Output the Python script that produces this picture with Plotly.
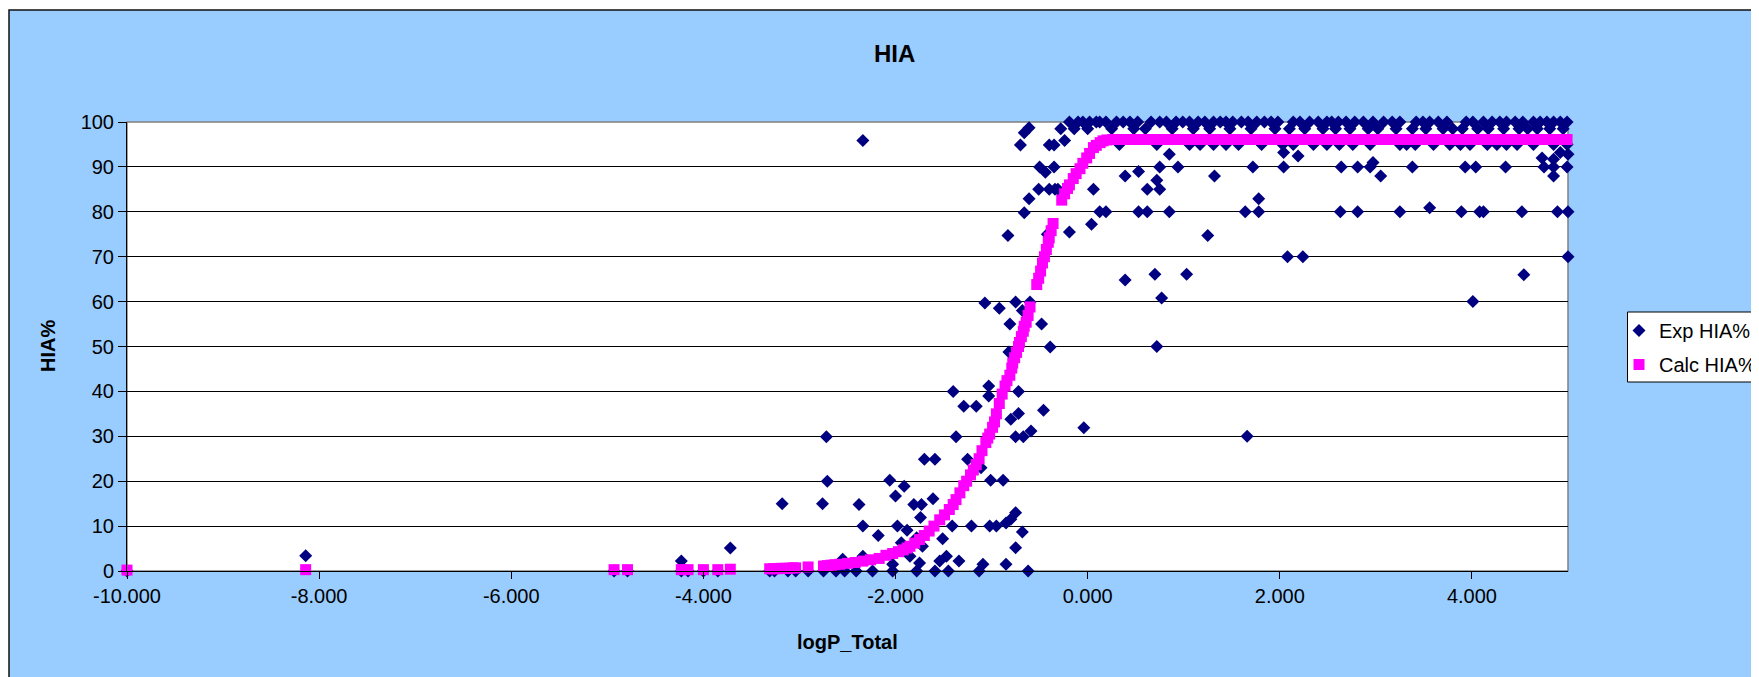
import plotly.graph_objects as go

# ---------------- data ----------------
exp_logp = [
    -10.00, -8.14, -4.93, -4.79, -4.23, -4.23, -4.16, -4.00, -3.85, -3.72,
    -3.31, -3.26, -3.18, -3.12, -3.04, -2.91, -2.76, -2.71, -2.72, -2.75, -2.62,
    -2.55, -2.53, -2.41, -2.38, -2.34, -2.34, -2.34, -2.24, -2.18, -2.06, -2.03,
    -2.03, -2.00, -1.98, -1.94, -1.91, -1.88, -1.85, -1.81, -1.78, -1.78, -1.75,
    -1.74, -1.73, -1.72, -1.70, -1.61, -1.59, -1.59, -1.54, -1.51, -1.47, -1.45,
    -1.41, -1.40, -1.37, -1.34, -1.29, -1.25, -1.21, -1.16, -1.13, -1.11, -1.09,
    -1.07, -1.03, -1.03, -1.02, -1.01, -0.95, -0.92, -0.88, -0.85, -0.85, -0.83,
    -0.82, -0.81, -0.80, -0.80, -0.75, -0.75, -0.75, -0.75, -0.72, -0.72, -0.70,
    -0.68, -0.68, -0.67, -0.66, -0.66, -0.62, -0.61, -0.61, -0.60, -0.59, -0.51,
    -0.50, -0.48, -0.46, -0.44, -0.42, -0.40, -0.40, -0.39, -0.35, -0.35, -0.34,
    -0.31, -0.24, -0.19, -0.19, -0.10, -0.05, -0.04, 0.02, 0.04, 0.06, 0.09,
    0.125, 0.19, 0.39, 0.53, 0.53, 0.62, 0.62, 0.72, 0.75, 0.75, 0.85, 0.85,
    0.94, 1.25, 1.32, 1.64, 1.78, 1.78, 1.72, 2.04, 2.04, 2.19, 2.08, 2.24,
    0.39, 0.70, 1.03, 0.77, 0.72, 1.66,
    2.63, 2.81, 3.25, 3.56, 3.89, 4.08, 4.12, 4.52, 4.89, 5.00,
    2.64, 2.81, 2.94, 2.97, 3.38, 3.93, 4.04, 4.35, 4.75, 4.85, 4.99, 3.05, 4.85,
    4.01, 4.54, 5.00, 4.73, 4.85, 4.92, 5.00,
    # row at ~100
    0.125, 0.19, 0.30, 0.37, 0.44, 0.52, 0.66, 0.75, 0.82, 0.92, 0.99, 1.06,
    1.15, 1.22, 1.31, 1.38, 1.44, 1.51, 1.60, 1.67, 1.76, 1.84, 1.91, 1.98,
    2.14, 2.21, 2.31, 2.40, 2.49, 2.54, 2.61, 2.69, 2.78, 2.87, 2.97, 3.08,
    3.17, 3.25, 3.42, 3.49, 3.56, 3.65, 3.74, 3.94, 4.01, 4.12, 4.21, 4.29,
    4.36, 4.45, 4.53, 4.64, 4.71, 4.78, 4.85, 4.92, 4.99,
    # row at ~98.5
    -0.28, -0.14, 0.00, 0.25, 0.48, 0.60, 0.88, 1.10, 1.27, 1.48, 1.70, 1.95,
    2.10, 2.26, 2.45, 2.58, 2.73, 2.92, 3.02, 3.21, 3.38, 3.52, 3.70, 3.80,
    3.90, 4.06, 4.17, 4.33, 4.49, 4.58, 4.68, 4.81, 4.95,
    # row at ~95
    0.33, 0.72, 1.06, 1.17, 1.31, 1.44, 1.57, 1.81, 2.03, 2.14, 2.35, 2.49,
    2.62, 2.76, 2.94, 3.25, 3.32, 3.41, 3.60, 3.77, 3.88, 3.98, 4.16, 4.26,
    4.36, 4.47, 4.64, 4.85, 4.99,
]
exp_hia = [
    0, 3.4, 0, 0, 2.2, 0, 0, 0, 0, 5.1,
    0, 0, 15, 0, 0, 0, 15, 20, 29.9, 0, 0,
    2.6, 0, 0, 14.8, 10, 3.3, 95.9, 0, 7.9, 20.2, 1.5,
    0, 16.7, 10, 6.3, 18.9, 9.1, 3.3, 14.8, 7.4, 0, 1.8,
    11.9, 14.8, 5.5, 24.9, 16.1, 24.9, 0, 2.2, 7.2, 3.3, 0,
    10, 40, 29.9, 2.2, 36.7, 24.9, 10, 36.7, 0, 23, 1.5,
    59.7, 41.2, 39, 10, 20.2, 10, 58.5, 20.2, 10.7, 1.5, 74.7,
    48.8, 55, 11.5, 33.8, 59.9, 29.9, 13, 5.2, 40, 35.1, 94.9,
    58, 8.7, 29.9, 79.8, 97.6, 0, 82.9, 98.7, 59.9, 31.2, 85,
    90, 55, 35.8, 88.8, 75, 85, 94.9, 49.9, 90, 94.9, 85,
    85, 95.9, 75.5, 100, 100, 100, 31.9, 100, 77.2, 85, 100,
    80, 80, 88, 89, 80, 85, 80, 87, 90, 85, 92.8, 80,
    90, 74.7, 88, 80, 80, 82.9, 90, 90, 93.2, 92.4, 70, 70,
    64.8, 66.1, 66.1, 60.8, 50, 30,
    80, 80, 80, 80.9, 80, 80, 80, 80, 80, 80,
    90, 90, 90, 91, 90, 90, 90, 90, 90, 90, 90, 88, 88,
    60, 66, 70, 92, 91.7, 93.2, 92.8,
    100, 100, 100, 100, 100, 100, 100, 100, 100, 100, 100, 100,
    100, 100, 100, 100, 100, 100, 100, 100, 100, 100, 100, 100,
    100, 100, 100, 100, 100, 100, 100, 100, 100, 100, 100, 100,
    100, 100, 100, 100, 100, 100, 100, 100, 100, 100, 100, 100,
    100, 100, 100, 100, 100, 100, 100, 100, 100,
    98.5, 98.5, 98.5, 98.5, 98.5, 98.5, 98.5, 98.5, 98.5, 98.5, 98.5, 98.5,
    98.5, 98.5, 98.5, 98.5, 98.5, 98.5, 98.5, 98.5, 98.5, 98.5, 98.5, 98.5,
    98.5, 98.5, 98.5, 98.5, 98.5, 98.5, 98.5, 98.5, 98.5,
    95, 95, 95, 95, 95, 95, 95, 95, 95, 95, 95, 95,
    95, 95, 95, 95, 95, 95, 95, 95, 95, 95, 95, 95,
    95, 95, 95, 95, 95,
]

calc_logp = [
    -10.00, -8.14, -4.93, -4.79, -4.23, -4.16, -4.00, -3.85, -3.72,
    -3.31, -3.27, -3.23, -3.19, -3.15, -3.11, -3.07, -3.04, -2.91,
    -2.75, -2.71, -2.67, -2.63, -2.58, -2.50, -2.42, -2.34, -2.26, -2.17,
    -2.10, -2.03, -1.97, -1.92, -1.88, -1.85, -1.80, -1.75, -1.70, -1.65,
    -1.60, -1.54, -1.49, -1.44, -1.40, -1.37, -1.33, -1.29, -1.26, -1.22,
    -1.19, -1.16, -1.13, -1.10, -1.06, -1.04, -1.02, -0.99, -0.97, -0.95,
    -0.92, -0.89, -0.86, -0.84, -0.81, -0.79, -0.78, -0.76, -0.74, -0.72,
    -0.71, -0.69, -0.67, -0.66, -0.64, -0.62, -0.60,
    -0.53, -0.51, -0.49, -0.47, -0.45, -0.43, -0.41, -0.40, -0.38, -0.36,
    -0.27, -0.24, -0.21, -0.19, -0.15, -0.12, -0.08, -0.05, -0.01, 0.02,
    0.06, 0.09, 0.13, 0.16, 0.20, 0.26,
    0.32, 0.37, 0.44, 0.52, 0.58, 0.66, 0.72, 0.78, 0.85, 0.92, 0.99, 1.06,
    1.15, 1.22, 1.31, 1.38, 1.44, 1.51, 1.60, 1.67, 1.76, 1.84, 1.91, 1.98,
    2.04, 2.14, 2.21, 2.31, 2.40, 2.49, 2.54, 2.61, 2.69, 2.78, 2.87, 2.97,
    3.08, 3.17, 3.25, 3.34, 3.42, 3.49, 3.56, 3.65, 3.74, 3.84, 3.94, 4.01,
    4.12, 4.21, 4.29, 4.36, 4.45, 4.53, 4.64, 4.71, 4.78, 4.85, 4.92, 4.99,
]
calc_hia = [
    0.2, 0.3, 0.3, 0.3, 0.3, 0.3, 0.3, 0.3, 0.4,
    0.5, 0.5, 0.5, 0.6, 0.6, 0.6, 0.7, 0.7, 0.9,
    1.1, 1.2, 1.3, 1.4, 1.5, 1.7, 1.9, 2.2, 2.5, 2.8,
    3.5, 3.9, 4.3, 4.7, 5.1, 5.5, 6.2, 7.0, 7.9, 8.9,
    10.0, 11.4, 12.5, 13.7, 14.8, 15.9, 17.4, 19.0, 20.0, 21.4,
    22.5, 23.7, 25.0, 26.8, 28.6, 29.6, 30.5, 32.0, 33.2, 35.0,
    37.3, 39.4, 41.2, 42.4, 43.6, 45.2, 46.3, 47.5, 48.7, 50.0,
    50.9, 52.2, 53.4, 54.5, 55.4, 56.9, 58.8,
    63.8, 65.2, 66.8, 68.6, 70.0, 71.6, 73.2, 74.2, 75.8, 77.4,
    82.6, 84.0, 85.2, 86.0, 87.4, 88.5, 89.6, 90.8, 92.0, 93.0,
    94.3, 94.8, 95.4, 95.8, 96.0, 96.1,
    96.1, 96.1, 96.1, 96.1, 96.1, 96.1, 96.1, 96.1, 96.1, 96.1, 96.1, 96.1,
    96.1, 96.1, 96.1, 96.1, 96.1, 96.1, 96.1, 96.1, 96.1, 96.1, 96.1, 96.1,
    96.1, 96.1, 96.1, 96.1, 96.1, 96.1, 96.1, 96.1, 96.1, 96.1, 96.1, 96.1,
    96.1, 96.1, 96.1, 96.1, 96.1, 96.1, 96.1, 96.1, 96.1, 96.1, 96.1, 96.1,
    96.1, 96.1, 96.1, 96.1, 96.1, 96.1, 96.1, 96.1, 96.1, 96.1, 96.1, 96.1,
]

x_tick_vals = [-10, -8, -6, -4, -2, 0, 2, 4]
x_tick_text = ["-10.000", "-8.000", "-6.000", "-4.000", "-2.000", "0.000", "2.000", "4.000"]
y_tick_vals = [0, 10, 20, 30, 40, 50, 60, 70, 80, 90, 100]
y_tick_text = ["0", "10", "20", "30", "40", "50", "60", "70", "80", "90", "100"]

# ---------------- layout geometry (screen pixels) ----------------
W, H = 1759, 677
OFF = 8  # page body margin that shifts the figure on screen
L, R, T, B = 127, 1568, 122, 571  # plot area on screen


def px(x):
    return (x - L) / (R - L)


def py(y):
    return (B - y) / (B - T)


FONT = "Arial, 'Liberation Sans', sans-serif"

fig = go.Figure()
fig.add_trace(go.Scatter(
    x=exp_logp, y=exp_hia, mode="markers", name="Exp HIA%",
    marker=dict(symbol="diamond", size=10, color="#000080", line=dict(width=0)),
    cliponaxis=False, legendgroup="exp", hoverinfo="x+y",
))
fig.add_trace(go.Scatter(
    x=calc_logp, y=calc_hia, mode="markers", name="Calc HIA%",
    marker=dict(symbol="square", size=11, color="#FF00FF", line=dict(width=0)),
    cliponaxis=False, legendgroup="calc", hoverinfo="x+y",
))

fig.update_layout(
    width=W, height=H,
    margin=dict(l=L - OFF, r=W - (R - OFF), t=T - OFF, b=H - (B - OFF),
                autoexpand=False),
    paper_bgcolor="white", plot_bgcolor="white",
    font=dict(family=FONT, size=20, color="black"),
    showlegend=True,
    legend=dict(
        x=px(1619), y=py(311), xanchor="left", yanchor="top",
        bgcolor="rgba(0,0,0,0)", borderwidth=0,
        font=dict(family=FONT, size=20, color="black"),
        tracegroupgap=5, itemwidth=30,
    ),
    xaxis=dict(
        range=[-10, 5], tickvals=x_tick_vals, ticktext=x_tick_text,
        ticks="outside", ticklen=7, tickcolor="black", tickwidth=1,
        showline=True, linecolor="black", linewidth=1,
        showgrid=False, zeroline=False,
        tickfont=dict(family=FONT, size=20, color="black"),
    ),
    yaxis=dict(
        range=[0, 100], tickvals=y_tick_vals, ticktext=y_tick_text,
        ticks="outside", ticklen=8, tickcolor="black", tickwidth=1,
        showline=True, linecolor="black", linewidth=1,
        showgrid=True, gridcolor="black", gridwidth=1, zeroline=False,
        tickfont=dict(family=FONT, size=20, color="black"),
    ),
    shapes=[
        dict(type="rect", xref="paper", yref="paper", layer="below",
             x0=px(9), x1=px(1790), y0=py(10), y1=py(700),
             fillcolor="#99CCFF", line=dict(color="#111111", width=1.5)),
        dict(type="rect", xref="paper", yref="paper", layer="below",
             x0=0, x1=1, y0=0, y1=1,
             fillcolor="white", line=dict(color="#808080", width=1.5)),
        dict(type="rect", xref="paper", yref="paper", layer="above",
             x0=px(1627.5), x1=px(1800), y0=py(312), y1=py(382),
             fillcolor="white", line=dict(color="black", width=1)),
    ],
    annotations=[
        dict(text="<b>HIA</b>", xref="paper", yref="paper",
             x=px(894), y=py(53), xanchor="center", yanchor="middle",
             showarrow=False, font=dict(family=FONT, size=24, color="black")),
        dict(text="<b>logP_Total</b>", xref="paper", yref="paper",
             x=px(847), y=py(642), xanchor="center", yanchor="middle",
             showarrow=False, font=dict(family=FONT, size=20, color="black")),
        dict(text="<b>HIA%</b>", xref="paper", yref="paper",
             x=px(48), y=py(346), xanchor="center", yanchor="middle",
             textangle=-90,
             showarrow=False, font=dict(family=FONT, size=20, color="black")),
    ],
)

fig.write_html("out.html")
